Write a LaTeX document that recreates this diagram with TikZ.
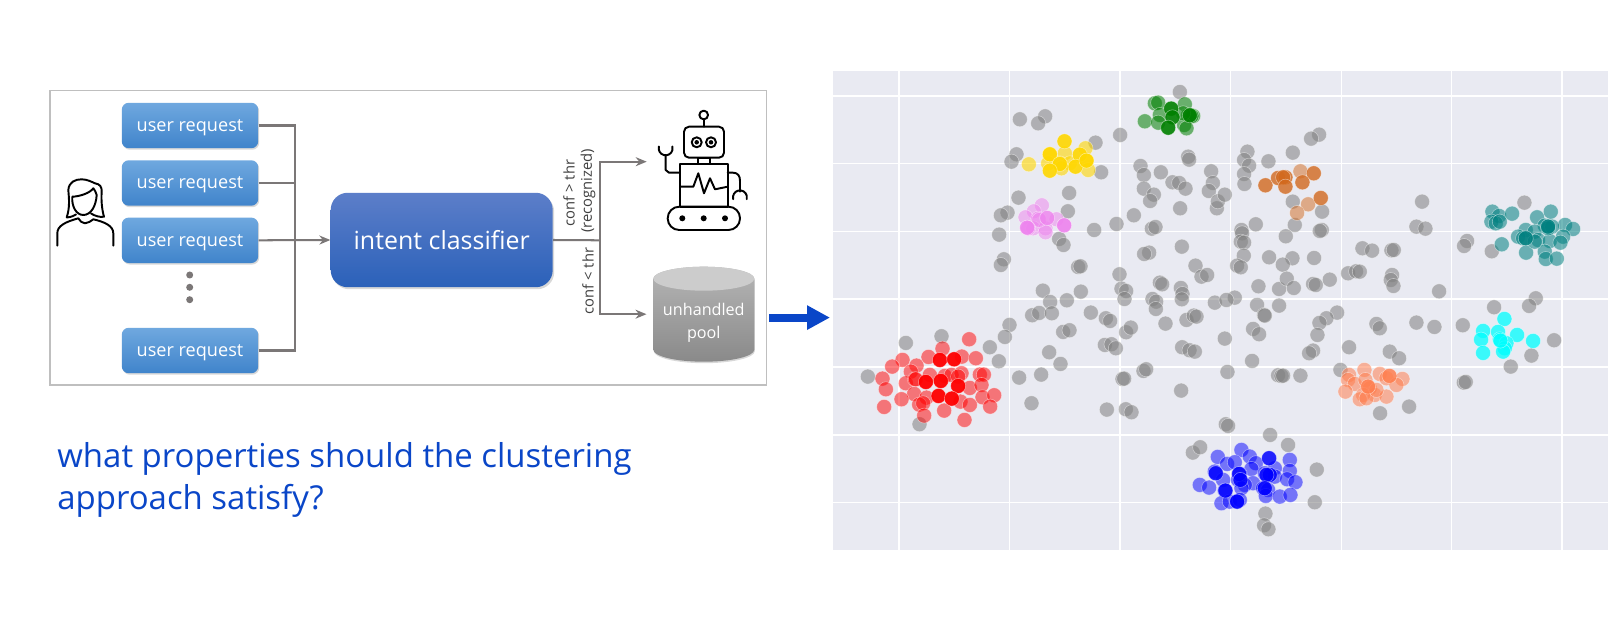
\documentclass[tikz,border=0pt]{standalone}
\usepackage{fontspec}
\setmainfont{Open Sans}
\usetikzlibrary{arrows.meta,positioning,calc,shapes.geometric,shadows}
\definecolor{reqtop}{HTML}{6FA8DF}
\definecolor{reqbot}{HTML}{4084CB}
\definecolor{clftop}{HTML}{5C7EC9}
\definecolor{clfbot}{HTML}{2B61B9}
\definecolor{wire}{HTML}{7B7777}
\definecolor{panelbg}{HTML}{E9EAF2}
\definecolor{askblue}{HTML}{0A46C8}
\definecolor{gold}{HTML}{FFD700}
\definecolor{dkgreen}{HTML}{008000}
\definecolor{orchid}{HTML}{EE82EE}
\definecolor{chocolate}{HTML}{D2691E}
\definecolor{coral}{HTML}{FF7F50}
\definecolor{aqua}{HTML}{00FFFF}
\newcommand{\dotset}[3]{\foreach \px/\py in {#3} \fill[dot,fill=#1,fill opacity=#2] (\px,\py) circle[radius=0.15cm];}
\begin{document}
\begin{tikzpicture}[x=0.02cm,y=-0.02cm,>=Stealth,font=\small]
\tikzstyle{req}=[rectangle,rounded corners=0.14cm,minimum width=2.73cm,minimum height=0.91cm,top color=reqtop,bottom color=reqbot,text=white,font=\fontsize{10.3}{12}\selectfont,text height=8.5pt,text depth=2pt,drop shadow={opacity=0.3,shadow xshift=0.02cm,shadow yshift=-0.03cm}]
\tikzstyle{clf}=[rectangle,rounded corners=0.34cm,minimum width=4.44cm,minimum height=1.89cm,top color=clftop,bottom color=clfbot,text=white,font=\fontsize{14.2}{17}\selectfont,drop shadow={opacity=0.3,shadow xshift=0.03cm,shadow yshift=-0.04cm}]
\tikzstyle{wired}=[draw=wire,line width=1.15pt]
\tikzstyle{wiredto}=[wired,-{Stealth[length=0.22cm,width=0.18cm]}]
\tikzstyle{turn}=[font=\fontsize{8.4}{10}\selectfont,text=black!75,rotate=90]
\tikzstyle{icon}=[draw=black,line width=1.1pt,line cap=round,line join=round]
\tikzstyle{grid}=[draw=white,line width=0.7pt]
\tikzstyle{dot}=[draw=white,draw opacity=0.5,line width=0.3pt]
\tikzstyle{crop}=[x=0.00667cm,y=-0.00667cm]
\useasboundingbox (0,0) rectangle (1622,631);
\fill[white] (0,0) rectangle (1622,631);
% left panel
\node[rectangle,draw=black!25,line width=0.8pt,minimum width=14.33cm,minimum height=5.89cm] (frame) at (408.3,237.8) {};
\node[req] (req1) at (190,125.5) {user request}; \node[req] (req2) at (190,183) {user request};
\node[req] (req3) at (190,240.3) {user request}; \node[req] (req4) at (190,350.5) {user request};
\foreach \py in {275,287.3,299.7} \fill[wire] (189.7,\py) circle[radius=0.07cm];
\node[clf] (clf) at (441.7,240) {intent classifier};
\coordinate (bus) at (295,240.3); \coordinate (split) at (600,240.3); \coordinate (robot) at (646.7,161.7);
\draw[wired] (req1.east) -| (bus); \draw[wired] (req4.east) -| (bus); \draw[wired] (req2.east) -- (req2.east -| bus);
\draw[wiredto] (req3.east) -- (clf.west);
\draw[wired] (clf.east) -- (split);
\draw[wiredto] (split) |- (robot);
% pool
\shade[top color=gray!58,bottom color=gray!92,drop shadow={opacity=0.3,shadow xshift=0.01cm,shadow yshift=-0.03cm}] (653.3,278.7) -- (653.3,349.7) arc[start angle=180,end angle=360,x radius=1.01cm,y radius=0.24cm] -- (754.3,278.7) arc[start angle=0,end angle=180,x radius=1.01cm,y radius=0.24cm] -- cycle;
\fill[black!20] (703.8,278.7) ellipse[x radius=1.01cm,y radius=0.24cm];
\node[rectangle,minimum width=2.02cm,minimum height=1.9cm] (pool) at (703.8,314.2) {};
\node[font=\fontsize{9.2}{12.9}\selectfont,text=white,align=center] (pooltext) at (703.8,323) {unhandled\\pool};
\draw[wiredto,shorten >=0.13cm] (split) |- (pool.west);
\node[turn] (high) at (569,193) {conf > thr}; \node[turn] (named) at (588,191) {(recognized)}; \node[turn] (low) at (588,281) {conf < thr};
% woman
\draw[icon] (57.3,245.7) -- (57.3,233.3) .. controls (57.3,226) and (65,222) .. (78.3,218.3) .. controls (80,221) and (82,223.3) .. (85,223.3) .. controls (88,223.3) and (91,221) .. (93.3,219.3) .. controls (105,222) and (113.3,226) .. (113.3,233.3) -- (113.3,245.7);
\draw[icon] (76,214.5) .. controls (72,217) and (68,217.5) .. (66.7,217.3) .. controls (70,208) and (69,198) .. (68.3,190) .. controls (69,182) and (75,179.3) .. (81.7,179.3) .. controls (87,179.3) and (92,182) .. (95,183.3) .. controls (100,184) and (102,187) .. (101.7,192) .. controls (101,200) and (102,210) .. (104,216.7) .. controls (100,217.5) and (95,216) .. (91,213.5);
\draw[icon] (72.3,196.7) .. controls (71.5,206) and (76,215) .. (83.3,215) .. controls (91,215) and (96,206) .. (96.7,195) .. controls (96,192) and (94.5,190) .. (93.3,188.3) .. controls (90,193) and (80,196.5) .. (72.3,196.7);
% robot
\draw[icon] (703.7,115) circle[radius=0.087cm]; \draw[icon] (703.7,119.3) -- (703.7,126.7);
\draw[icon,rounded corners=0.1cm] (684,126.7) rectangle (724,157.7);
\draw[icon] (696.7,142.3) circle[radius=0.1cm]; \draw[icon] (711,142.3) circle[radius=0.1cm];
\fill (696.7,142.3) circle[radius=0.045cm]; \fill (711,142.3) circle[radius=0.045cm];
\draw[icon] (698.3,157.7) rectangle (710,164.3); \draw[icon] (680,164.3) rectangle (727.7,206.7);
\draw[icon] (680,186.7) -- (693.3,186.7) -- (698.3,173.3) -- (704,193.3) -- (710,178.3) -- (715,189.3) -- (727.7,186.7);
\draw[icon] (680,172.7) -- (669,172.7) -- (665.7,170) -- (665.7,155);
\draw[icon] (658.9,146.5) arc[start angle=165,end angle=375,radius=0.14cm];
\draw[icon] (727.7,172.7) -- (733,172.7) .. controls (738,172.7) and (740,176) .. (740,181) -- (740,191.7);
\draw[icon] (733.2,199.2) arc[start angle=195,end angle=-15,radius=0.14cm];
\draw[icon,rounded corners=0.23cm] (667.7,206.7) rectangle (740,230);
\foreach \px in {682.3,703.7,725} \fill (\px,218.3) circle[radius=0.06cm];
% arrow and question
\node[inner sep=0pt,font=\fontsize{18.75}{24}\selectfont,text=askblue,align=left,anchor=north west] (ask) at (57,442) {what properties should the clustering\\approach satisfy?};
% scatter panel
\fill[panelbg] (833.3,71) rectangle (1607.7,550);
\foreach \px in {899,1009.3,1120,1230.3,1341.3,1451.7,1562} \draw[grid] (\px,71) -- (\px,550);
\foreach \py in {96,163.7,231.3,299,367,435,502.3} \draw[grid] (833.3,\py) -- (1607.7,\py);
\coordinate (pout) at (769,317.6); \coordinate (pin) at (830,317.6);
\draw[askblue,line width=0.16cm,-{Triangle[length=0.46cm,width=0.46cm]}] (pout) -- (pin);
\begin{scope}[crop,shift={(16.6cm,-1.2cm)}]
\dotset{gray}{0.55}{570/178,646/169,625/190,1050/96,797/248,871/225,560/283,545/305,814/337,932/318,942/345,993/337,1075/290,1078/299,1144/334,1028/367,1048/369,1067/386,1149/369,1137/393,1161/445,1164/424,942/386,972/404,961/423,1051/445,566/413,718/399,714/454,533/458,513/466,508/524,793/510,860/492,912/466,966/506,977/501,688/537,701/555,1056/560,958/578,943/582,522/598,513/615,745/621,752/619,1097/617,1115/650,1132/645,869/643,990/668,997/673,875/686,889/693,884/717,639/692,753/695,711/721,661/726,1053/684,1058/702,1056/718,968/717,979/725,1155/728}
\dotset{gold}{0.6}{767/265,597/313,660/283,705/280,770/302,655/310,690/310,720/310,695/325,775/330}
\dotset{gold}{0.9}{704/244,660/283,750/284,690/312,660/332,737/320,770/302}
\dotset{dkgreen}{0.55}{975/130,985/128,1065/133,1075/165,1090/168,1085/168,945/184,990/165,985/188,1063/195,1070/205,1060/160}
\dotset{dkgreen}{0.9}{1024/146,1028/172,1015/203,1080/166}
\dotset{orchid}{0.5}{636/436,612/454,587/472,625/476,680/478,703/496,592/503,610/505,647/505,647/517,628/480,595/505}
\dotset{orchid}{0.8}{652/474,703/496,592/503}
\end{scope}
\begin{scope}[crop,shift={(24.4cm,-1.2cm)}]
\dotset{gray}{0.55}{298/224,274/236,83/275,73/300,88/317,73/342,74/372,146/304,219/278,15/404,219/425,307/455,225/495,108/493,306/510,300/513,198/529,65/510,67/520,63/545,73/548,72/587,52/617,63/622,148/592,218/595,189/614,283/594,116/679,178/687,201/656,222/684,280/672,288/675,330/659,45/713,20/720,428/565,457/572,515/571,522/570,385/640,409/634,420/635,517/645,513/660,521/678,658/694,607/425,590/500,617/506,742/543,733/558,816/574,914/428,948/715}
\dotset{chocolate}{0.5}{242/334,265/433,232/459}
\dotset{chocolate}{0.8}{137/376,175/354,197/352,190/352,197/380,282/340,248/367,303/414}
\dotset{teal}{0.55}{818/455,838/468,815/485,828/490,840/485,877/461,952/472,993/455,1036/495,1060/507,985/500,975/497,997/500,918/510,945/515,895/530,910/535,955/540,990/543,1030/530,1022/548,846/553,919/578,975/575,978/597,1011/596,985/505,945/545}
\dotset{teal}{0.85}{918/535,985/500}
\end{scope}
\begin{scope}[crop,shift={(16.6cm,-6cm)}]
\dotset{gray}{0.55}{978/27,607/46,628/39,666/40,783/38,828/55,841/63,1070/60,1092/47,1100/50,539/75,525/111,700/96,719/91,889/97,903/83,1007/71,335/109,228/129,480/142,507/184,658/157,692/192,825/135,845/133,858/145,1057/142,1079/151,1095/155,114/230,568/233,634/224,878/237,883/236,941/213,949/208,1054/272,605/310,831/329,888/328,905/337,269/373,1089/458,1111/442}
\dotset{red}{0.5}{418/118,338/146,296/171,396/170,438/175,218/180,187/200,260/197,243/215,158/236,300/225,345/228,365/225,395/220,450/224,462/224,168/268,228/250,255/238,420/264,455/255,253/282,215/298,290/293,392/305,458/292,493/286,420/315,481/320,163/321,268/314,280/310,343/332,283/347,404/360,258/238,385/230}
\dotset{red}{0.95}{330/180,373/178,288/246,333/243,385/258,326/288,366/296}
\end{scope}
\begin{scope}[crop,shift={(24.4cm,-6cm)}]
\dotset{gray}{0.55}{112/15,178/17,133/45,135/47,823/22,928/18,352/38,320/55,299/69,293/105,280/152,268/160,100/87,118/103,15/116,97/183,23/216,470/72,480/85,388/142,510/155,538/175,590/68,644/81,729/76,1003/121,935/167,873/200,732/248,738/246,175/226,185/228,190/227,242/227,362/210,481/340,568/320,18/373,25/378,151/405,205/435,291/509,285/607,137/641,133/676,146/688}
\dotset{aqua}{0.75}{854/57,790/93,835/96,892/105,784/119,840/118,860/130,940/123,855/145,790/159,850/155,842/122}
\dotset{coral}{0.55}{434/210,388/225,480/222,500/235,548/237,385/240,405/252,437/240,530/255,377/275,450/265,465/285,500/290,430/285,420/298,440/295,470/270}
\dotset{coral}{0.85}{509/228,445/260}
\end{scope}
\begin{scope}[crop,shift={(23.6cm,-8.4cm)}]
\dotset{blue}{0.5}{185/90,114/111,210/110,142/132,165/127,228/130,330/120,285/145,105/155,130/180,215/147,255/160,330/153,180/162,175/180,220/190,195/195,185/205,285/170,322/178,347/187,60/195,88/203,250/205,265/210,135/212,258/228,300/230,332/225,125/250,150/245,172/245,180/240}
\dotset{blue}{0.85}{268/115,108/160,178/162,182/180,270/165,260/165,137/212,255/205,172/245}
\end{scope}
\end{tikzpicture}
\end{document}
